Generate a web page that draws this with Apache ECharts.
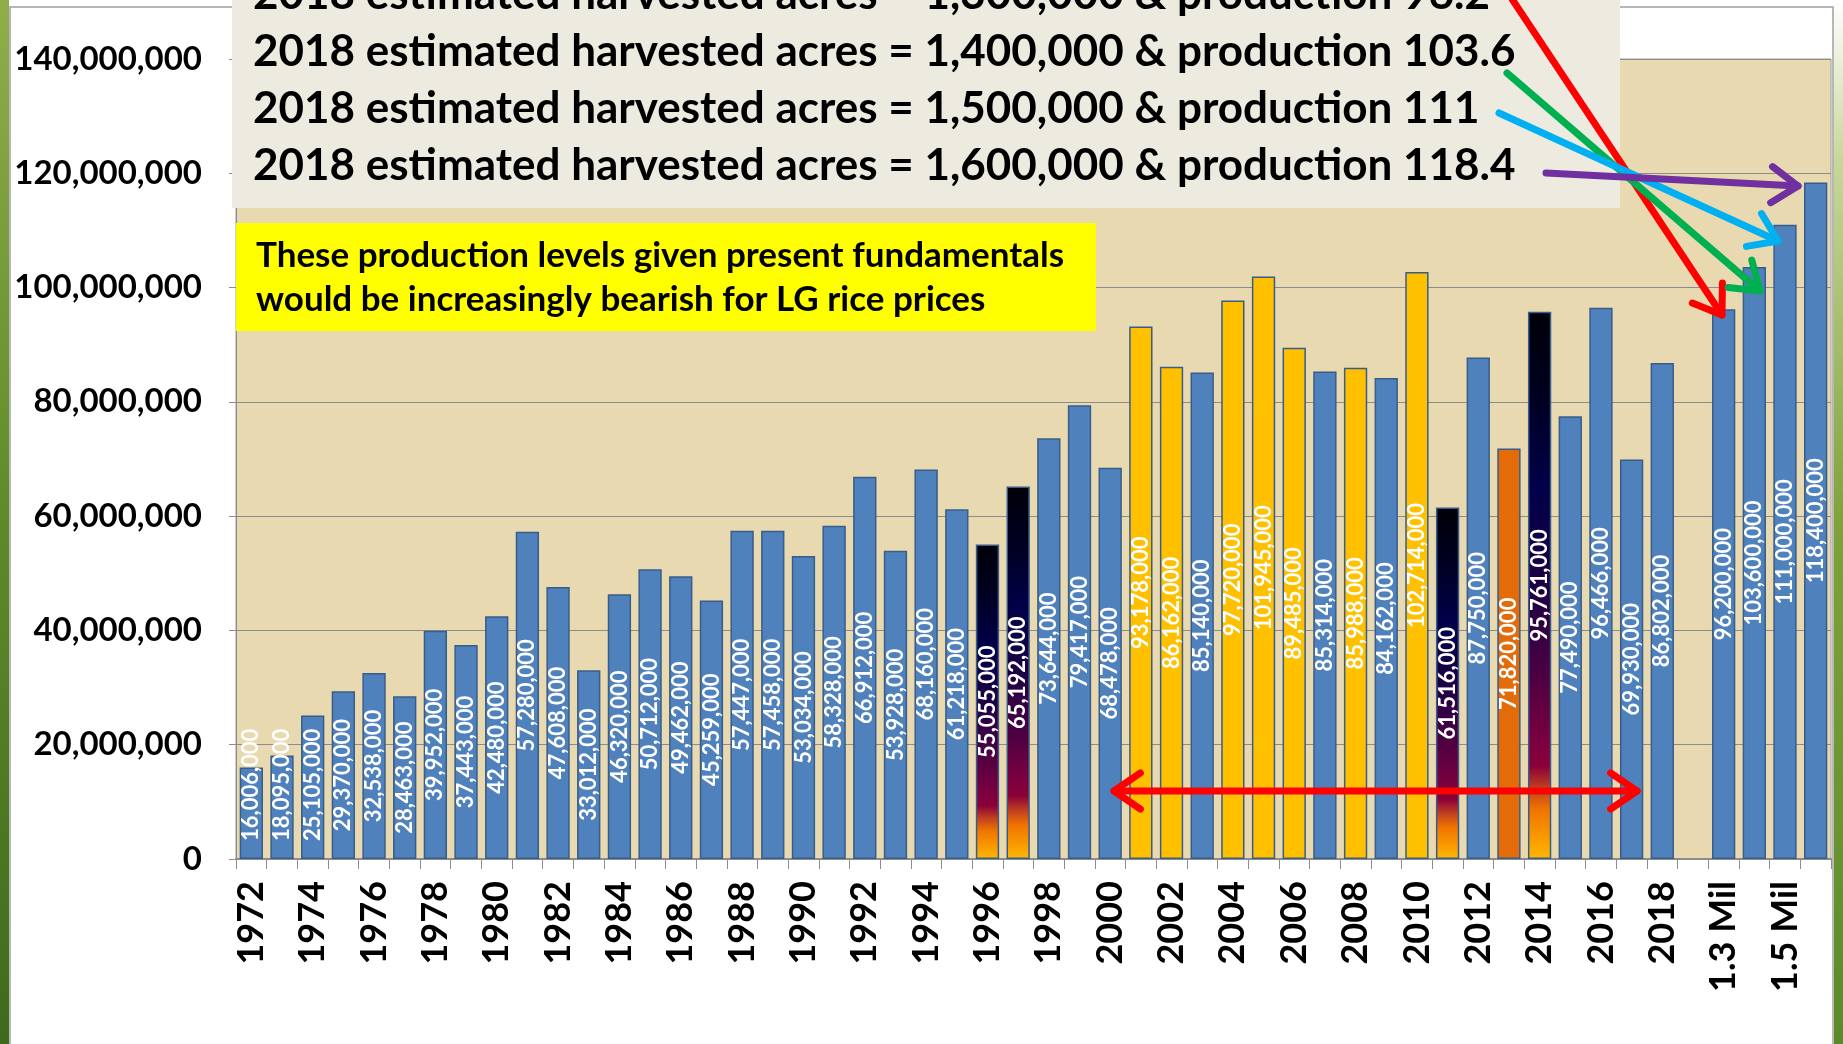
<!DOCTYPE html>
<html>
<head>
<meta charset="utf-8">
<script src="https://cdn.jsdelivr.net/npm/echarts@6/dist/echarts.min.js"></script>
<style>
html, body { margin: 0; padding: 0; background: #fff; }
#chart { width: 1843px; height: 1044px; }
</style>
</head>
<body>
<div id="chart"></div>
<script>
// categories: crop years, a blank slot, then 2018 acreage scenarios
var years = ['1972','1973','1974','1975','1976','1977','1978','1979','1980','1981',
  '1982','1983','1984','1985','1986','1987','1988','1989','1990','1991',
  '1992','1993','1994','1995','1996','1997','1998','1999','2000','2001',
  '2002','2003','2004','2005','2006','2007','2008','2009','2010','2011',
  '2012','2013','2014','2015','2016','2017','2018',
  '', '1.3 Mil', '1.4 Mil', '1.5 Mil', '1.6 Mil'];

// long grain production (cwt)
var production = [16006000, 18095000, 25105000, 29370000, 32538000, 28463000, 39952000, 37443000, 42480000, 57280000,
  47608000, 33012000, 46320000, 50712000, 49462000, 45259000, 57447000, 57458000, 53034000, 58328000,
  66912000, 53928000, 68160000, 61218000, 55055000, 65192000, 73644000, 79417000, 68478000, 93178000,
  86162000, 85140000, 97720000, 101945000, 89485000, 85314000, 85988000, 84162000, 102714000, 61516000,
  87750000, 71820000, 95761000, 77490000, 96466000, 69930000, 86802000,
  null, 96200000, 103600000, 111000000, 118400000];

// b = blue, y = yellow, o = orange, f = dark "fire" gradient
var barKind = ['b','b','b','b','b','b','b','b','b','b',
  'b','b','b','b','b','b','b','b','b','b',
  'b','b','b','b','f','f','b','b','b','y',
  'y','b','y','y','y','b','y','b','y','f',
  'b','o','f','b','b','b','b',
  '', 'b','b','b','b'];

var scenarioAcres = ['1,300,000', '1,400,000', '1,500,000', '1,600,000'];
var scenarioProd = ['96.2', '103.6', '111', '118.4'];

var FONT = 'Lato';

var fire = new echarts.graphic.LinearGradient(0, 0, 0, 1, [
  { offset: 0, color: '#000008' },
  { offset: 0.14, color: '#00001e' },
  { offset: 0.32, color: '#000048' },
  { offset: 0.5, color: '#1c0044' },
  { offset: 0.66, color: '#4a0042' },
  { offset: 0.78, color: '#780040' },
  { offset: 0.83, color: '#8a0038' },
  { offset: 0.87, color: '#c04020' },
  { offset: 0.91, color: '#f07400' },
  { offset: 1, color: '#ffb800' }
]);
var fills = { b: '#4f81bd', y: '#ffc000', o: '#e36c09', f: fire };
var border = '#385d8a';

var barData = production.map(function (v, i) {
  var k = barKind[i];
  if (v == null) return null;
  var low = v < 27000000;
  return {
    value: v,
    itemStyle: { color: fills[k], borderColor: border, borderWidth: 1.5 },
    label: low ? { position: 'insideBottom', distance: 18, align: 'left', verticalAlign: 'middle' } : {}
  };
});

function arrowHead(tip, from, len, ang) {
  var dx = tip[0] - from[0], dy = tip[1] - from[1];
  var d = Math.sqrt(dx * dx + dy * dy);
  var ux = dx / d, uy = dy / d;
  function rot(a) {
    var c = Math.cos(a), s = Math.sin(a);
    return [tip[0] - len * (ux * c - uy * s), tip[1] - len * (ux * s + uy * c)];
  }
  return [rot(ang), tip, rot(-ang)];
}

function arrow(from, tip, color, both) {
  var st = { stroke: color, lineWidth: 7, lineCap: 'round', lineJoin: 'round', fill: null };
  var els = [
    { type: 'polyline', shape: { points: [from, tip] }, style: st, z: 100 },
    { type: 'polyline', shape: { points: arrowHead(tip, from, 32, 0.6) }, style: st, z: 100 }
  ];
  if (both) {
    els.push({ type: 'polyline', shape: { points: arrowHead(from, tip, 32, 0.6) }, style: st, z: 100 });
  }
  return els;
}

var noteLines = scenarioAcres.map(function (a, i) {
  return {
    type: 'text', x: 253, y: -5 + i * 57, z: 60,
    style: {
      text: '2018 estimated harvested acres = ' + a + ' & production ' + scenarioProd[i],
      font: 'bold 44px ' + FONT, fill: '#000', verticalAlign: 'middle'
    }
  };
});

var graphics = [
  // photo edges of the slide
  { type: 'rect', shape: { x: 0, y: 0, width: 9, height: 1044 }, z: 1,
    style: { fill: new echarts.graphic.LinearGradient(0, 0, 0, 1, [
      { offset: 0, color: '#8fae4a' }, { offset: 0.5, color: '#5f8a2a' }, { offset: 1, color: '#3f6a1c' }]) } },
  { type: 'rect', shape: { x: 1834, y: 0, width: 9, height: 1044 }, z: 1,
    style: { fill: new echarts.graphic.LinearGradient(0, 0, 0, 1, [
      { offset: 0, color: '#ffffff' }, { offset: 0.15, color: '#c8d89a' }, { offset: 0.5, color: '#7fa23a' }, { offset: 1, color: '#5a8a2a' }]) } },
  { type: 'rect', shape: { x: 10, y: 7, width: 1823, height: 1050 }, z: 2,
    style: { fill: null, stroke: '#a0a0a0', lineWidth: 1.5 } },
  // scenario note box
  { type: 'rect', shape: { x: 232, y: -2, width: 1388, height: 210 }, z: 50,
    style: { fill: '#edeae0' } },
  // yellow call-out
  { type: 'rect', shape: { x: 236, y: 223, width: 860, height: 108 }, z: 50,
    style: { fill: '#ffff00' } },
  { type: 'text', x: 256, y: 256, z: 60,
    style: { text: 'These production levels given present fundamentals',
      font: 'bold 35px ' + FONT, fill: '#000', verticalAlign: 'middle' } },
  { type: 'text', x: 256, y: 300, z: 60,
    style: { text: 'would be increasingly bearish for LG rice prices',
      font: 'bold 35px ' + FONT, fill: '#000', verticalAlign: 'middle' } }
].concat(noteLines)
  .concat(arrow([1510, -4], [1722, 315], '#ff0000'))
  .concat(arrow([1507, 73], [1760, 291], '#00b050'))
  .concat(arrow([1499, 113], [1778, 241], '#00b0f0'))
  .concat(arrow([1546, 173], [1798, 186], '#7030a0'))
  .concat(arrow([1114, 791], [1637, 791], '#ff0000', true));

var myChart = echarts.init(document.getElementById('chart'));
var option = {
  backgroundColor: '#ffffff',
  animation: false,
  grid: {
    left: 236, right: 12, top: 59, bottom: 185,
    show: true, backgroundColor: '#e9d9b0', borderColor: '#9a9a9a', borderWidth: 1
  },
  xAxis: {
    type: 'category',
    data: years,
    axisLine: { lineStyle: { color: '#8c8c8c', width: 2 } },
    axisTick: { show: true, interval: 0, length: 10, lineStyle: { color: '#8c8c8c' } },
    axisLabel: {
      interval: 1, rotate: 90, margin: 22,
      fontFamily: FONT, fontWeight: 'bold', fontSize: 36, color: '#000'
    }
  },
  yAxis: {
    type: 'value',
    min: 0, max: 140000000, interval: 20000000,
    axisLine: { show: true, lineStyle: { color: '#8c8c8c' } },
    axisTick: { show: true, length: 7, lineStyle: { color: '#8c8c8c' } },
    splitLine: { lineStyle: { color: '#8c8c8c', width: 1.2 } },
    axisLabel: {
      margin: 34,
      fontFamily: FONT, fontWeight: 'bold', fontSize: 33, color: '#000',
      formatter: function (v) { return v.toLocaleString('en-US'); }
    }
  },
  series: [{
    type: 'bar',
    data: barData,
    barCategoryGap: '24%',
    label: {
      show: true, position: 'inside', rotate: 90,
      fontFamily: FONT, fontWeight: 'bold', fontSize: 22, color: '#ffffff',
      formatter: function (p) { return p.value.toLocaleString('en-US'); }
    }
  }],
  graphic: graphics
};
myChart.setOption(option);
</script>
</body>
</html>
